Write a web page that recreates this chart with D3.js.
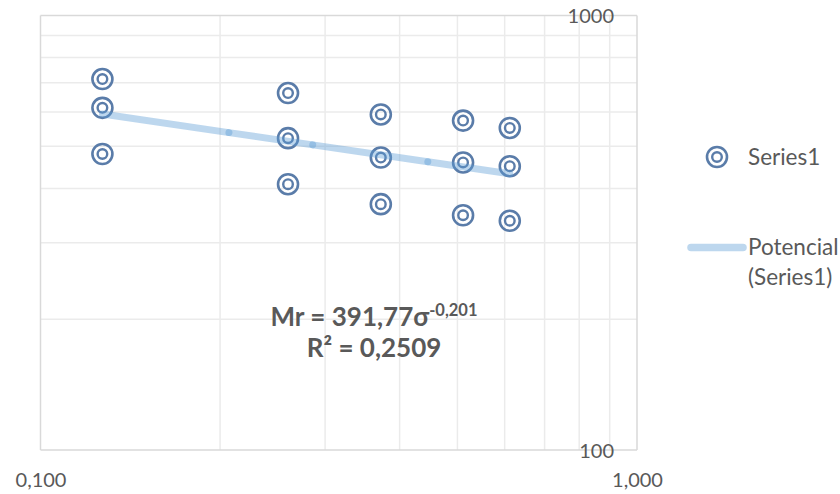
<!DOCTYPE html>
<html><head><meta charset="utf-8">
<script src="https://cdn.jsdelivr.net/npm/d3@7"></script>
<style>body{margin:0;background:#fff}svg{display:block}</style>
</head><body>
<svg id="c" width="840" height="494"></svg>
<script>
// ---- data ----
const sigma = [0.127,0.127,0.127, 0.26,0.26,0.26, 0.372,0.372,0.372, 0.511,0.511,0.511, 0.612,0.612,0.612];
const mr    = [714,613,480, 663,522,409, 592,471,368, 573,459,347, 551,450,337];
const trendCoef = 391.77, trendExp = -0.201;
const trendSamples = [0.127, 0.207, 0.286, 0.446, 0.612];
const xTicks = [0.1, 1]; const xTickLabels = ["0,100", "1,000"];
const yTicks = [100, 1000]; const yTickLabels = ["100", "1000"];
const xMinor = [0.2,0.3,0.4,0.5,0.6,0.7,0.8,0.9];
const yMinor = [200,300,400,500,600,700,800,900];
const seriesName = "Series1";
const trendName = ["Potencial", "(Series1)"];

const svg = d3.select("#c");
const x = d3.scaleLog().domain([0.1, 1]).range([40.5, 637]);
const y = d3.scaleLog().domain([100, 1000]).range([450, 15.5]);
const font = "Lato, 'Open Sans', sans-serif";
const txt = "#595959";
const mcol = "#5a7ca9";

// grid
const g = svg.append("g");
g.selectAll(".vx").data(xMinor).join("line")
  .attr("x1", d => x(d)).attr("x2", d => x(d)).attr("y1", y(1000)).attr("y2", y(100))
  .attr("stroke", "#ebebeb").attr("stroke-width", 1.5);
g.selectAll(".hy").data(yMinor).join("line")
  .attr("y1", d => y(d)).attr("y2", d => y(d)).attr("x1", x(0.1)).attr("x2", x(1))
  .attr("stroke", "#ebebeb").attr("stroke-width", 1.5);
g.selectAll(".mx").data(xTicks).join("line")
  .attr("x1", d => x(d)).attr("x2", d => x(d)).attr("y1", y(1000)).attr("y2", y(100))
  .attr("stroke", "#d9d9d9").attr("stroke-width", 1.5);
g.selectAll(".my").data(yTicks).join("line")
  .attr("y1", d => y(d)).attr("y2", d => y(d)).attr("x1", x(0.1)).attr("x2", x(1))
  .attr("stroke", "#d9d9d9").attr("stroke-width", 1.5);

// axes labels via d3 axes
const xAxis = d3.axisBottom(x).tickValues(xTicks).tickSize(0).tickFormat((d,i) => xTickLabels[i]);
const xa = svg.append("g").attr("transform", "translate(0,480)").call(xAxis);
xa.select(".domain").remove();
xa.selectAll("text").attr("font-family", font).attr("font-size", 20).attr("fill", txt).attr("y", 0).attr("dy", "0.35em");

const yAxis = d3.axisLeft(y).tickValues(yTicks).tickSize(0).tickFormat((d,i) => yTickLabels[i]);
const ya = svg.append("g").attr("transform", "translate(614,0)").call(yAxis);
ya.select(".domain").remove();
ya.selectAll("text").attr("font-family", font).attr("font-size", 20).attr("fill", txt).attr("x", 0).attr("dy", "0.35em");

// markers
const pts = sigma.map((s, i) => ({s, m: mr[i]}));
const mk = svg.append("g");
mk.selectAll(".o").data(pts).join("circle")
  .attr("cx", d => x(d.s)).attr("cy", d => y(d.m)).attr("r", 10)
  .attr("fill", "none").attr("stroke", mcol).attr("stroke-width", 2.6);
mk.selectAll(".i").data(pts).join("circle")
  .attr("cx", d => x(d.s)).attr("cy", d => y(d.m)).attr("r", 4.8)
  .attr("fill", "none").attr("stroke", mcol).attr("stroke-width", 2.4);

// trendline (segments, semi-transparent, so joints appear darker)
const tp = trendSamples.map(s => [x(s), y(trendCoef * Math.pow(s, trendExp))]);
const segs = d3.pairs(tp);
svg.append("g").selectAll("line").data(segs).join("line")
  .attr("x1", d => d[0][0]).attr("y1", d => d[0][1]).attr("x2", d => d[1][0]).attr("y2", d => d[1][1])
  .attr("stroke", "rgb(91,155,213)").attr("stroke-opacity", 0.4).attr("stroke-width", 7)
  .attr("stroke-linecap", "round");

// equation
const eq = svg.append("text").attr("x", 374).attr("y", 326).attr("text-anchor", "middle")
  .attr("font-family", font).attr("font-weight", "bold").attr("font-size", 26).attr("fill", txt);
eq.append("tspan").text("Mr = 391,77σ");
eq.append("tspan").text("-0,201").attr("font-size", 16.5).attr("dy", -10);
svg.append("text").attr("x", 374).attr("y", 357).attr("text-anchor", "middle")
  .attr("font-family", font).attr("font-weight", "bold").attr("font-size", 26).attr("fill", txt)
  .text("R² = 0,2509");

// legend
const lg = svg.append("g");
lg.append("circle").attr("cx", 717).attr("cy", 157).attr("r", 10).attr("fill", "none").attr("stroke", mcol).attr("stroke-width", 2.6);
lg.append("circle").attr("cx", 717).attr("cy", 157).attr("r", 4.8).attr("fill", "none").attr("stroke", mcol).attr("stroke-width", 2.4);
lg.append("text").attr("x", 748).attr("y", 157).attr("dy", "0.35em").attr("font-family", font).attr("font-size", 22.5).attr("fill", txt).text(seriesName);
lg.append("line").attr("x1", 691).attr("x2", 743).attr("y1", 247.5).attr("y2", 247.5)
  .attr("stroke", "#bdd7ee").attr("stroke-width", 7.5).attr("stroke-linecap", "round");
lg.selectAll(".tn").data(trendName).join("text").attr("x", 748).attr("y", (d,i) => 247 + i*30).attr("dy", "0.35em")
  .attr("font-family", font).attr("font-size", 22.5).attr("fill", txt).text(d => d);
</script>
</body></html>
